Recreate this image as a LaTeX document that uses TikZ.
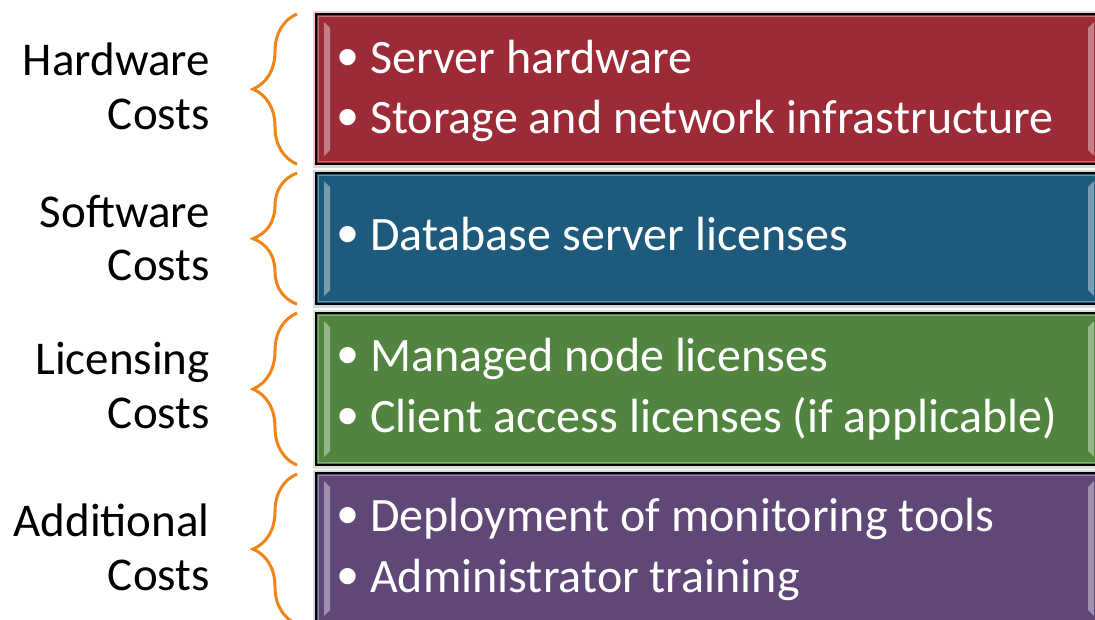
\documentclass[tikz,border=0pt]{standalone}
\usepackage{fontspec}
\setmainfont{Carlito}
\newfontfamily\bulletfont{Liberation Sans}
\usetikzlibrary{positioning, decorations.pathreplacing}

\definecolor{hwred}{RGB}{156,42,55}
\definecolor{swblue}{RGB}{30,90,123}
\definecolor{lcgreen}{RGB}{80,132,63}
\definecolor{adpurple}{RGB}{95,71,119}
\definecolor{braceorange}{RGB}{240,132,22}

\tikzset{
    costbox/.style={draw=black, line width=1.2pt, anchor=north west,
        minimum width=785pt, inner sep=0pt}, % coloured panels
    costlabel/.style={anchor=base east, inner sep=0pt, align=right,
        font=\fontsize{47}{55}\selectfont},
    costitem/.style={anchor=base west, inner sep=0pt, text=white,
        font=\fontsize{48}{55}\selectfont},
    costbrace/.style={draw=braceorange, line width=3pt,
        decorate, decoration={brace, amplitude=44pt}},
}

\newcommand{\itembullet}{\makebox[33pt][l]{\raisebox{-4pt}{\bulletfont\fontsize{60}{60}\selectfont •}}}

% bevel strips and glow for a panel
\newcommand{\bevel}[2]{%
    \draw[#2!35, line width=3pt, opacity=.6]
        ([shift={(-2pt,2pt)}]#1.north west) rectangle ([shift={(2pt,-2pt)}]#1.south east);
    \draw[black, line width=1.2pt] (#1.north west) rectangle (#1.south east);
    \draw[white, opacity=.35, line width=1.5pt]
        ([shift={(2.5pt,-2.5pt)}]#1.north west) rectangle ([shift={(-2.5pt,2.5pt)}]#1.south east);
    \fill[white, opacity=.4] ([shift={(8pt,-8pt)}]#1.north west) -- ([shift={(14pt,-14pt)}]#1.north west)
        -- ([shift={(14pt,14pt)}]#1.south west) -- ([shift={(8pt,8pt)}]#1.south west) -- cycle;
    \fill[white, opacity=.4] ([shift={(-8pt,-8pt)}]#1.north east) -- ([shift={(-14pt,-14pt)}]#1.north east)
        -- ([shift={(-14pt,14pt)}]#1.south east) -- ([shift={(-8pt,8pt)}]#1.south east) -- cycle;
}

\begin{document}
\begin{tikzpicture}[x=1pt, y=-1pt]

    \useasboundingbox[fill=white] (0,0) rectangle (1095,619);
    \clip (0,0) rectangle (1095,619);

    % --- Panels ---
    \node[costbox, fill=hwred, minimum height=149pt] (hwbox) at (316,14) {};
    \node[costbox, fill=swblue, minimum height=130pt] (swbox) at (316,173) {};
    \node[costbox, fill=lcgreen, minimum height=151pt] (lcbox) at (316,313) {};
    \node[costbox, fill=adpurple, minimum height=150pt] (adbox) at (316,473) {};

    \bevel{hwbox}{hwred}
    \bevel{swbox}{swblue}
    \bevel{lcbox}{lcgreen}
    \bevel{adbox}{adpurple}

    % --- Items ---
    \node[costitem] (hwa) at (337,73) {\itembullet Server hardware};
    \node[costitem] (hwb) at (337,133) {\itembullet Storage and network infrastructure};
    \node[costitem] (swa) at (337,250) {\itembullet Database server licenses};
    \node[costitem] (lca) at (337,371) {\itembullet Managed node licenses};
    \node[costitem] (lcb) at (337,432) {\itembullet Client access licenses (if applicable)};
    \node[costitem] (ada) at (337,531) {\itembullet Deployment of monitoring tools};
    \node[costitem] (adb) at (337,592) {\itembullet Administrator training};

    % --- Labels ---
    \node[costlabel] (hwlabel) at (210,75) {Hardware};
    \node[costlabel] (hwcosts) at (210,129) {Costs};
    \node[costlabel] (swlabel) at (210,227) {Software};
    \node[costlabel] (swcosts) at (210,280) {Costs};
    \node[costlabel] (lclabel) at (210,374) {Licensing};
    \node[costlabel] (lccosts) at (210,428) {Costs};
    \node[costlabel] (adlabel) at (210,536) {Additional};
    \node[costlabel] (adcosts) at (210,590) {Costs};

    % --- Braces ---
    \draw[costbrace] ([xshift=-19pt]hwbox.south west) -- ([xshift=-19pt]hwbox.north west);
    \draw[costbrace] ([xshift=-19pt]swbox.south west) -- ([xshift=-19pt]swbox.north west);
    \draw[costbrace] ([xshift=-19pt]lcbox.south west) -- ([xshift=-19pt]lcbox.north west);
    \draw[costbrace] ([xshift=-19pt]adbox.south west) -- ([xshift=-19pt,yshift=-1pt]adbox.north west);

\end{tikzpicture}
\end{document}
